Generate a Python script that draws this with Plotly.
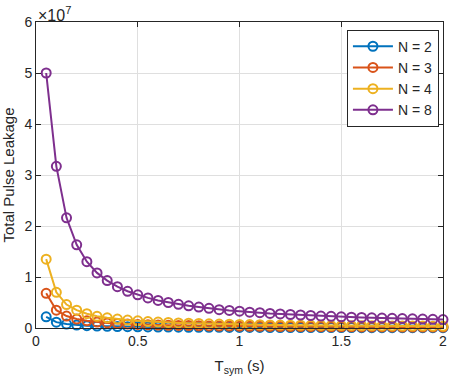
import plotly.graph_objects as go

# symbol duration (s)
t_sym = [0.05, 0.10, 0.15, 0.20, 0.25, 0.30, 0.35, 0.40, 0.45, 0.50,
         0.55, 0.60, 0.65, 0.70, 0.75, 0.80, 0.85, 0.90, 0.95, 1.00,
         1.05, 1.10, 1.15, 1.20, 1.25, 1.30, 1.35, 1.40, 1.45, 1.50,
         1.55, 1.60, 1.65, 1.70, 1.75, 1.80, 1.85, 1.90, 1.95, 2.00]

# total pulse leakage, in units of 1e7
leak_n2 = [0.22, 0.115, 0.077, 0.058, 0.046, 0.038, 0.033, 0.029, 0.026, 0.023,
           0.021, 0.019, 0.018, 0.016, 0.015, 0.0145, 0.0135, 0.013, 0.012, 0.0115,
           0.011, 0.0105, 0.010, 0.0096, 0.0092, 0.0088, 0.0085, 0.0082, 0.008, 0.0077,
           0.0074, 0.0072, 0.007, 0.0068, 0.0066, 0.0064, 0.0062, 0.006, 0.0059, 0.0058]
leak_n3 = [0.68, 0.35, 0.235, 0.175, 0.14, 0.117, 0.10, 0.088, 0.078, 0.07,
           0.064, 0.058, 0.054, 0.05, 0.047, 0.044, 0.041, 0.039, 0.037, 0.035,
           0.033, 0.032, 0.030, 0.029, 0.028, 0.027, 0.026, 0.025, 0.024, 0.023,
           0.0225, 0.022, 0.021, 0.0205, 0.02, 0.0195, 0.019, 0.0185, 0.018, 0.0175]
leak_n4 = [1.35, 0.70, 0.46, 0.35, 0.28, 0.23, 0.20, 0.175, 0.155, 0.14,
           0.127, 0.117, 0.108, 0.10, 0.093, 0.088, 0.082, 0.078, 0.074, 0.07,
           0.067, 0.064, 0.061, 0.058, 0.056, 0.054, 0.052, 0.05, 0.048, 0.047,
           0.045, 0.044, 0.042, 0.041, 0.04, 0.039, 0.038, 0.037, 0.036, 0.035]
leak_n8 = [5.00, 3.17, 2.16, 1.63, 1.30, 1.08, 0.93, 0.81, 0.72, 0.65,
           0.59, 0.54, 0.50, 0.465, 0.435, 0.41, 0.385, 0.36, 0.345, 0.33,
           0.31, 0.30, 0.285, 0.275, 0.265, 0.255, 0.245, 0.235, 0.228, 0.22,
           0.213, 0.206, 0.20, 0.195, 0.19, 0.185, 0.18, 0.175, 0.17, 0.165]

series = [("N = 2", leak_n2, "#0072BD"),
          ("N = 3", leak_n3, "#D95319"),
          ("N = 4", leak_n4, "#EDB120"),
          ("N = 8", leak_n8, "#7E2F8E")]

FONT = "Liberation Sans, Arial, Helvetica, sans-serif"
AX = "#262626"

fig = go.Figure()
for name, vals, col in series:
    fig.add_trace(go.Scatter(
        x=t_sym, y=[v * 1e7 for v in vals], name=name, mode="lines+markers",
        line=dict(color=col, width=2),
        marker=dict(symbol="circle-open", size=9, color=col, line=dict(width=2)),
        cliponaxis=False,
    ))

fig.update_layout(
    width=449, height=385,
    margin=dict(l=36, r=6, t=22, b=57, autoexpand=False),
    paper_bgcolor="white", plot_bgcolor="white",
    font=dict(family=FONT, size=14, color=AX),
    showlegend=True,
    legend=dict(x=0.99, y=0.975, xanchor="right", yanchor="top",
                bgcolor="white", bordercolor=AX, borderwidth=1,
                font=dict(size=14), tracegroupgap=0, itemwidth=40),
    annotations=[dict(text="×10<sup>7</sup>", xref="paper", yref="paper",
                      x=0, y=1, xanchor="left", yanchor="bottom",
                      showarrow=False, font=dict(size=16, color=AX), yshift=-4)],
)

fig.update_xaxes(
    range=[0, 2], tickvals=[0, 0.5, 1, 1.5, 2], ticktext=["0", "0.5", "1", "1.5", "2"],
    showgrid=True, gridcolor="#dfdfdf", gridwidth=1, zeroline=False,
    showline=True, linecolor=AX, linewidth=1, mirror="ticks",
    ticks="inside", ticklen=5, tickcolor=AX, automargin=False,
    title=dict(text="T<sub>sym</sub> (s)", font=dict(size=15), standoff=12),
)
fig.update_yaxes(
    range=[0, 6e7], tickvals=[0, 1e7, 2e7, 3e7, 4e7, 5e7, 6e7],
    ticktext=["0", "1", "2", "3", "4", "5", "6"],
    showgrid=True, gridcolor="#dfdfdf", gridwidth=1, zeroline=False,
    showline=True, linecolor=AX, linewidth=1, mirror="ticks",
    ticks="inside", ticklen=5, tickcolor=AX, automargin=False,
    title=dict(text="Total Pulse Leakage", font=dict(size=15), standoff=8),
)

# page body has a default 8px margin; drop it so the figure fills the window
fig.write_html("out.html", config={"displayModeBar": False},
               post_script="document.body.style.margin='0';")
